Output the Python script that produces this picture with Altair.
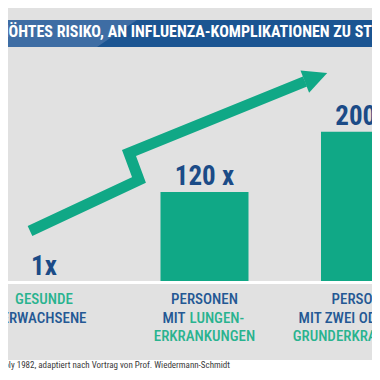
import altair as alt
import pandas as pd

# ---------------- data ----------------
categories = [
    "Gesunde Erwachsene",
    "Personen mit Lungenerkrankungen",
    "Personen mit zwei oder mehr Grunderkrankungen",
]
risk_values = [1, 120, 200]
value_labels = ["1x", "120 x", "200 x"]

title_text = "ERHÖHTES RISIKO, AN INFLUENZA-KOMPLIKATIONEN ZU STERBEN"
source_text = "Quelle: Barker und Mullooly 1982, adaptiert nach Vortrag von Prof. Wiedermann-Schmidt"

label_cat = [0, 0, 1, 1, 2, 2, 2]
label_line = [0, 1, 0, 2, 0, 1, 2]
label_text = ["GESUNDE", "ERWACHSENE", "PERSONEN", "ERKRANKUNGEN",
              "PERSONEN", "MIT ZWEI ODER MEHR", "GRUNDERKRANKUNGEN"]
label_tone = ["green", "blue", "blue", "green", "blue", "blue", "green"]
mixed_blue = "MIT"
mixed_green = "LUNGEN-"

# ---------------- style ----------------
W, H = 364, 364
FONT = "Roboto Condensed, Noto Sans Condensed, Liberation Sans Narrow, DejaVu Sans Condensed, sans-serif"
GREEN = "#10a886"
VAL_BLUE = "#1b4b87"
LBL_GREEN = "#29b38f"
LBL_BLUE = "#245894"
BG = "#e1e1e1"
BANNER_DARK = "#1b5592"
BANNER_LIGHT = "#3e6da4"

bars_df = pd.DataFrame({"cat": categories, "v": risk_values, "lbl": value_labels})
labels_df = pd.DataFrame({
    "cat": [categories[i] for i in label_cat],
    "line": label_line,
    "text": label_text,
    "tone": label_tone,
})
one = pd.DataFrame({"a": [0]})

xscale = alt.Scale(domain=categories, range=[-44.25, 437.25],
                   paddingInner=0.4517, paddingOuter=0.2259)
yscale = alt.Scale(domain=[0, 200], range=[274.5, 123.7])
X = alt.X("cat:N", scale=xscale, axis=None, sort=categories)

background = alt.Chart(one).mark_rect(color=BG).encode(
    x=alt.value(0), x2=alt.value(W), y=alt.value(0), y2=alt.value(352))

banner = alt.Chart(one).mark_rect(color=BANNER_DARK).encode(
    x=alt.value(0), x2=alt.value(W), y=alt.value(12), y2=alt.value(39))

banner_light = alt.Chart(pd.DataFrame({"px": [129, 89], "py": [12, 39]})).mark_area(
    orient="horizontal", color=BANNER_LIGHT).encode(
    x=alt.X("px:Q", scale=None), x2=alt.value(0), y=alt.Y("py:Q", scale=None))

title = alt.Chart(one).mark_text(
    align="left", baseline="middle", font=FONT, fontSize=16, fontWeight="bold",
    color="white").encode(x=alt.value(-26), y=alt.value(24), text=alt.value(title_text))

arrow_df = pd.DataFrame({"i": [0, 1, 2, 3],
                         "ax": [22, 131, 121, 297], "ay": [223, 172, 145, 73.5]})
arrow = alt.Chart(arrow_df).mark_line(
    color=GREEN, strokeWidth=11, strokeJoin="miter", strokeCap="butt").encode(
    x=alt.X("ax:Q", scale=None), y=alt.Y("ay:Q", scale=None), order="i:Q")

head = alt.Chart(one).mark_point(
    shape="M-1,-1L1,0L-1,1Z", size=576, angle=339, filled=True, opacity=1,
    color=GREEN, strokeWidth=0).encode(x=alt.value(308), y=alt.value(69.3))

bars = alt.Chart(bars_df).mark_bar(color=GREEN).encode(
    x=X, y=alt.Y("v:Q", scale=yscale, axis=None))

baseline = alt.Chart(one).mark_rule(color="white", strokeWidth=3).encode(
    x=alt.value(0), x2=alt.value(W), y=alt.value(274.5))

values = alt.Chart(bars_df).mark_text(
    baseline="alphabetic", dy=-7, font=FONT, fontSize=27, fontWeight="bold",
    color=VAL_BLUE).encode(x=X, y=alt.Y("v:Q", scale=yscale, axis=None), text="lbl:N")

tone_scale = alt.Scale(domain=["green", "blue"], range=[LBL_GREEN, LBL_BLUE])

cat_labels = alt.Chart(labels_df).transform_calculate(
    ly="291 + 18.5 * datum.line").mark_text(
    baseline="middle", font=FONT, fontSize=15, fontWeight=500).encode(
    x=X, y=alt.Y("ly:Q", scale=None), text="text:N",
    color=alt.Color("tone:N", scale=tone_scale, legend=None))

mixed_df = pd.DataFrame({"cat": [categories[1]], "line": [1]})
mix_blue = alt.Chart(mixed_df).transform_calculate(
    ly="291 + 18.5 * datum.line").mark_text(
    align="right", baseline="middle", dx=-19, font=FONT, fontSize=15, fontWeight=500,
    color=LBL_BLUE).encode(x=X, y=alt.Y("ly:Q", scale=None), text=alt.value(mixed_blue))
mix_green = alt.Chart(mixed_df).transform_calculate(
    ly="291 + 18.5 * datum.line").mark_text(
    align="left", baseline="middle", dx=-15, font=FONT, fontSize=15, fontWeight=500,
    color=LBL_GREEN).encode(x=X, y=alt.Y("ly:Q", scale=None), text=alt.value(mixed_green))

footer = alt.Chart(one).mark_text(
    align="right", baseline="middle", font=FONT, fontSize=9, color="#3a3a3a").encode(
    x=alt.value(222), y=alt.value(357), text=alt.value(source_text))

chart = alt.layer(
    background, banner, banner_light, title, arrow, head, bars, baseline,
    values, cat_labels, mix_blue, mix_green, footer
).resolve_scale(
    x="independent", y="independent", color="independent"
).properties(
    width=W, height=H, padding=0, background="white",
    autosize=alt.AutoSizeParams(type="none"),
).configure_view(strokeWidth=0)

chart.save("out.html", embed_options={"renderer": "svg", "actions": False})
